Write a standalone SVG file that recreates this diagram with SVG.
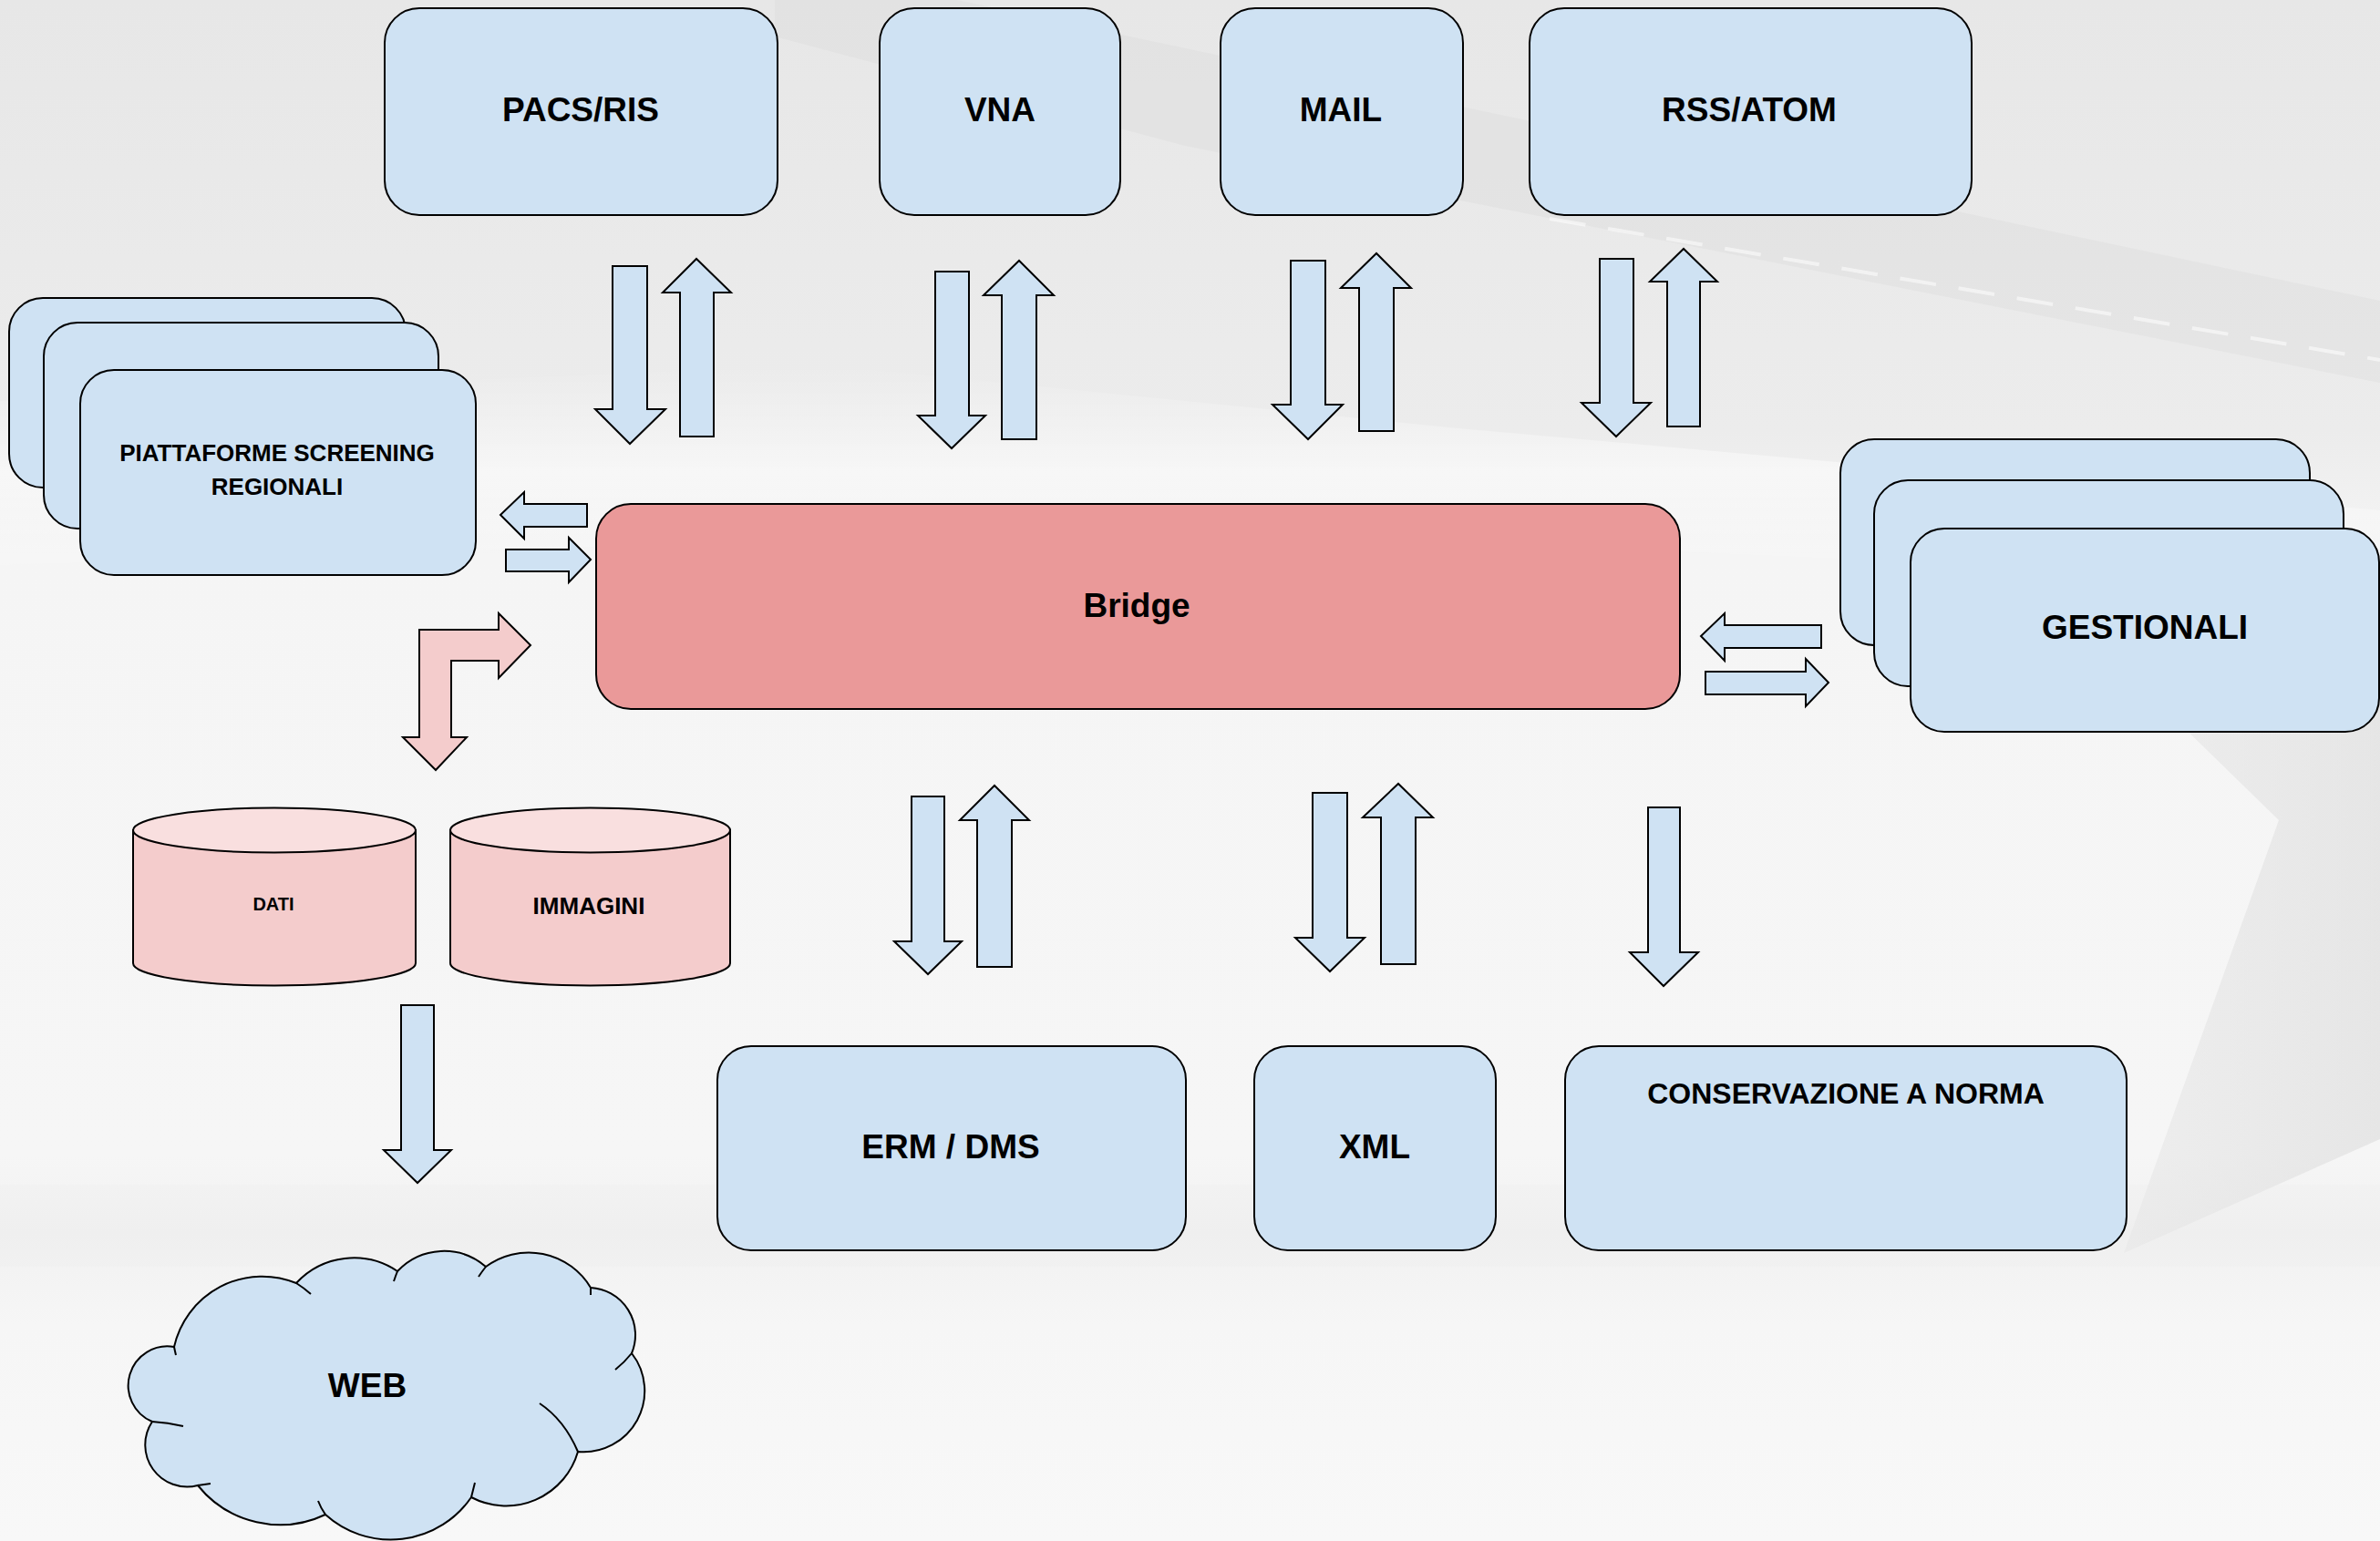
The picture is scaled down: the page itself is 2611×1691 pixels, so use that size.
<svg xmlns="http://www.w3.org/2000/svg" width="2611" height="1691" viewBox="0 0 2611 1691">
<defs>
<linearGradient id="bg" x1="0" y1="0" x2="0" y2="1">
<stop offset="0" stop-color="#e7e7e7"/>
<stop offset="0.28" stop-color="#ececec"/>
<stop offset="0.36" stop-color="#f5f5f5"/>
<stop offset="0.75" stop-color="#f6f6f6"/>
<stop offset="0.8" stop-color="#f1f1f1"/>
<stop offset="0.86" stop-color="#f6f6f6"/>
<stop offset="1" stop-color="#f8f8f8"/>
</linearGradient>
<linearGradient id="wedge" x1="0" y1="0" x2="1" y2="0">
<stop offset="0" stop-color="#dcdcdc" stop-opacity="0"/>
<stop offset="0.5" stop-color="#dcdcdc" stop-opacity="0.35"/>
<stop offset="1" stop-color="#d6d6d6" stop-opacity="0.5"/>
</linearGradient>
<linearGradient id="streak" x1="0" y1="0" x2="0" y2="1">
<stop offset="0" stop-color="#ffffff" stop-opacity="0"/>
<stop offset="0.5" stop-color="#ffffff" stop-opacity="0.5"/>
<stop offset="1" stop-color="#ffffff" stop-opacity="0"/>
</linearGradient>
<style>
.box{fill:#cfe2f3;stroke:#000;stroke-width:2}
.bridge{fill:#ea9999;stroke:#000;stroke-width:2}
.arr{fill:#cfe2f3;stroke:#000;stroke-width:2;stroke-linejoin:miter}
.parr{fill:#f4cccc;stroke:#000;stroke-width:2;stroke-linejoin:miter}
.cylb{fill:#f4cccc;stroke:#000;stroke-width:2}
.cylt{fill:#f9dfdf;stroke:#000;stroke-width:2}
.t{font-family:"Liberation Sans",Arial,sans-serif;font-weight:bold;fill:#000;text-anchor:middle}
.big{font-size:37px}
</style>
</defs>
<g id="background">
<rect x="0" y="0" width="2611" height="1691" fill="url(#bg)"/>
<polygon points="0,440 900,400 1600,470 2611,560 2611,640 1300,580 0,620" fill="url(#streak)"/>
<polygon points="850,0 1050,0 2611,330 2611,420 1300,160 850,40" fill="#d8d8d8" opacity="0.3"/>
<line x1="1700" y1="240" x2="2611" y2="395" stroke="#ffffff" stroke-width="4" stroke-dasharray="40 25" opacity="0.55"/>
<polygon points="2100,510 2611,610 2611,1250 2330,1375 2500,900" fill="url(#wedge)"/>
<rect x="0" y="1300" width="2611" height="90" fill="#e9e9e9" opacity="0.2"/>
</g>
<g id="connectors">
<polygon class="arr" points="672,292 710,292 710,449 730,449 691,487 653,449 672,449"/>
<polygon class="arr" points="746,479 783,479 783,321 802,321 764,284 727,321 746,321"/>
<polygon class="arr" points="1026,298 1063,298 1063,456 1081,456 1044,492 1007,456 1026,456"/>
<polygon class="arr" points="1099,482 1137,482 1137,324 1156,324 1118,286 1079,324 1099,324"/>
<polygon class="arr" points="1416,286 1454,286 1454,444 1473,444 1435,482 1396,444 1416,444"/>
<polygon class="arr" points="1491,473 1529,473 1529,316 1548,316 1510,278 1471,316 1491,316"/>
<polygon class="arr" points="1755,284 1792,284 1792,442 1811,442 1773,479 1735,442 1755,442"/>
<polygon class="arr" points="1829,468 1865,468 1865,309 1884,309 1847,273 1810,309 1829,309"/>
<polygon class="arr" points="1000,874 1036,874 1036,1033 1055,1033 1018,1069 981,1033 1000,1033"/>
<polygon class="arr" points="1072,1061 1110,1061 1110,900 1129,900 1091,862 1053,900 1072,900"/>
<polygon class="arr" points="1440,870 1478,870 1478,1029 1497,1029 1459,1066 1421,1029 1440,1029"/>
<polygon class="arr" points="1515,1058 1553,1058 1553,897 1572,897 1534,860 1495,897 1515,897"/>
<polygon class="arr" points="1808,886 1843,886 1843,1045 1863,1045 1825,1082 1788,1045 1808,1045"/>
<polygon class="arr" points="440,1103 476,1103 476,1262 495,1262 458,1298 421,1262 440,1262"/>
<polygon class="arr" points="644,553 644,578 575,578 575,591 549,565 575,540 575,553"/>
<polygon class="arr" points="555,603 624,603 624,590 648,614 624,639 624,627 555,627"/>
<polygon class="arr" points="1998,686 1998,711 1892,711 1892,725 1866,698 1892,673 1892,686"/>
<polygon class="arr" points="1871,737 1981,737 1981,723 2006,749 1981,775 1981,762 1871,762"/>
<polygon class="parr" points="460,691 547,691 547,673 582,708 547,744 547,725 495,725 495,809 512,809 478,845 442,809 460,809"/>
</g>
<g id="pacs">
<rect class="box" x="422" y="9" width="431" height="227" rx="38" ry="38"/>
<text class="t big" x="637" y="133">PACS/RIS</text>
</g>
<g id="vna">
<rect class="box" x="965" y="9" width="264" height="227" rx="38" ry="38"/>
<text class="t big" x="1097" y="133">VNA</text>
</g>
<g id="mail">
<rect class="box" x="1339" y="9" width="266" height="227" rx="38" ry="38"/>
<text class="t big" x="1471" y="133">MAIL</text>
</g>
<g id="rss">
<rect class="box" x="1678" y="9" width="485" height="227" rx="38" ry="38"/>
<text class="t big" x="1919" y="133">RSS/ATOM</text>
</g>
<g id="piattaforme">
<rect class="box" x="10" y="327" width="435" height="208" rx="37" ry="37"/>
<rect class="box" x="48" y="354" width="433" height="226" rx="37" ry="37"/>
<rect class="box" x="88" y="406" width="434" height="225" rx="37" ry="37"/>
<text class="t" style="font-size:26px" x="304" y="506">PIATTAFORME SCREENING</text>
<text class="t" style="font-size:26px" x="304" y="543">REGIONALI</text>
</g>
<g id="bridge">
<rect class="bridge" x="654" y="553" width="1189" height="225" rx="38" ry="38"/>
<text class="t big" x="1247" y="677">Bridge</text>
</g>
<g id="gestionali">
<rect class="box" x="2019" y="482" width="515" height="226" rx="37" ry="37"/>
<rect class="box" x="2056" y="527" width="515" height="226" rx="37" ry="37"/>
<rect class="box" x="2096" y="580" width="514" height="223" rx="37" ry="37"/>
<text class="t big" x="2353" y="701">GESTIONALI</text>
</g>
<g id="dati">
<path class="cylb" d="M146,911 V1057 A155,24.5 0 0,0 456,1057 V911 Z"/>
<ellipse class="cylt" cx="301" cy="911" rx="155" ry="24.5"/>
<text class="t" style="font-size:20px" x="300" y="999">DATI</text>
</g>
<g id="immagini">
<path class="cylb" d="M494,911 V1057 A153.5,24.5 0 0,0 801,1057 V911 Z"/>
<ellipse class="cylt" cx="647.5" cy="911" rx="153.5" ry="24.5"/>
<text class="t" style="font-size:26px" x="646" y="1003">IMMAGINI</text>
</g>
<g id="erm">
<rect class="box" x="787" y="1148" width="514" height="224" rx="37" ry="37"/>
<text class="t big" x="1043" y="1271">ERM / DMS</text>
</g>
<g id="xml">
<rect class="box" x="1376" y="1148" width="265" height="224" rx="37" ry="37"/>
<text class="t big" x="1508" y="1271">XML</text>
</g>
<g id="conservazione">
<rect class="box" x="1717" y="1148" width="616" height="224" rx="37" ry="37"/>
<text class="t" style="font-size:32px" x="2025" y="1211">CONSERVAZIONE A NORMA</text>
</g>
<g id="web">
<path class="box" d="M191,1478 A99,99 0 0,1 325,1408 A86,86 0 0,1 436,1395 A70,70 0 0,1 533,1390 A79,79 0 0,1 648,1413 A52,52 0 0,1 693,1485 A67,67 0 0,1 634,1593 A82,82 0 0,1 517,1643 A107,107 0 0,1 357,1662 A116,116 0 0,1 217,1630 A46,46 0 0,1 167,1560 A43,43 0 0,1 191,1478 Z"/>
<path fill="none" stroke="#000" stroke-width="2" d="M191,1478 q1,5 2,9 M167,1560 q17,1 34,5 M217,1630 q7,-1 14,-2 M357,1662 q-5,-7 -8,-15 M517,1643 q2,-8 4,-16 M634,1593 q-15,-35 -42,-53 M693,1485 q-8,10 -18,18 M648,1413 q0,4 0,8 M533,1390 q-4,5 -8,11 M436,1395 q-2,5 -4,11 M325,1408 q8,5 16,12"/>
<text class="t big" x="403" y="1533">WEB</text>
</g>
</svg>
